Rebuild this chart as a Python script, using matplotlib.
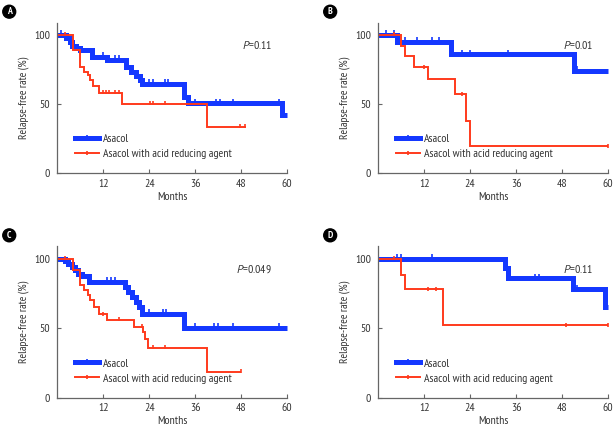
import numpy as np
import matplotlib
matplotlib.use("Agg")
import matplotlib.pyplot as plt
from matplotlib.lines import Line2D
from matplotlib import font_manager as fm

# narrow sans, as in the journal figure
_have = {f.name for f in fm.fontManager.ttflist}
_pick = [n for n in ["PT Sans Narrow", "Archivo Narrow", "Roboto Condensed",
                     "Fira Sans Condensed", "IBM Plex Sans Condensed"] if n in _have]
if _pick:
    plt.rcParams["font.family"] = [_pick[0], "DejaVu Sans"]
    FS = 8.5
else:
    plt.rcParams["font.family"] = ["DejaVu Sans"]
    plt.rcParams["font.stretch"] = "condensed"
    FS = 7.5
IT_FONT = "PT Sans" if "PT Sans" in _have else (_pick[0] if _pick else "DejaVu Sans")
plt.rcParams["mathtext.fontset"] = "custom"
plt.rcParams["mathtext.it"] = IT_FONT + ":italic"

BLUE = "#1438ff"
RED = "#ff3a1c"
LABELS = ["Asacol", "Asacol with acid reducing agent"]
PANELS = ["A", "B", "C", "D"]
P_TEXT = ["0.11", "0.01", "0.049", "0.11"]
XTICKS = [12, 24, 36, 48, 60]
YTICKS = [0, 50, 100]

# ---- panel A ----
A_ASA_T = [0, 2.4, 3.3, 3.8, 5.0, 5.9, 9.0, 13.0, 18.0, 19.3, 20.5, 21.5, 22.2, 33.2, 34.2, 58.7]
A_ASA_S = [100, 97.6, 95, 92, 90.4, 89, 84.3, 82, 77, 73.5, 70.5, 67.5, 64.7, 55, 50.5, 42]
A_ASA_C = [1, 12, 13, 15, 16, 24, 25, 28, 29, 36, 41.5, 42.5, 46, 58]
A_ASA_END = 60
A_ARA_T = [0, 4, 6, 7, 8, 8.5, 9.3, 11, 17, 39]
A_ARA_S = [100, 89, 77, 73.5, 71, 67.5, 63, 58, 50, 33.5]
A_ARA_C = [2, 12, 12.7, 13.5, 15, 16, 24.2, 25, 28, 47.8, 49]
A_ARA_END = 49.2

# ---- panel B ----
B_ASA_T = [0, 5, 19, 51]
B_ASA_S = [100, 95, 86, 74]
B_ASA_C = [2, 4, 7, 10, 14, 16, 22, 24, 34, 52]
B_ASA_END = 60
B_ARA_T = [0, 6, 7, 9.3, 13, 20, 23, 24]
B_ARA_S = [100, 92, 84.5, 76.5, 68.5, 57, 38, 19.5]
B_ARA_C = [4, 12, 22, 60]
B_ARA_END = 60

# ---- panel C ----
C_ASA_T = [0, 2.0, 2.9, 3.8, 4.6, 5.5, 6.4, 8.3, 17.7, 18.5, 19.6, 20.5, 21.3, 22.0, 33]
C_ASA_S = [100, 98.4, 96.5, 94, 91.7, 89.3, 87.5, 83.5, 79.5, 76, 72.5, 69, 65.3, 60.5, 50.3]
C_ASA_C = [13, 14, 15, 24, 27.5, 28.5, 36, 41, 42, 46, 58]
C_ASA_END = 60
C_ARA_T = [0, 4, 6, 7, 8, 8.5, 9.5, 11, 13, 20, 22.3, 23, 23.8, 39]
C_ARA_S = [100, 92, 81, 77.5, 74, 70, 65, 60, 56, 51, 47, 42, 36, 18.5]
C_ARA_C = [2, 12, 16, 22, 25, 28, 48]
C_ARA_END = 48

# ---- panel D ----
D_ASA_T = [0, 33, 33.9, 50.9, 59.1]
D_ASA_S = [100, 93, 86, 78, 65]
D_ASA_C = [5, 6, 14, 41, 42, 52]
D_ASA_END = 60
D_ARA_T = [0, 6, 7, 17]
D_ARA_S = [100, 88.5, 78, 52.2]
D_ARA_C = [4, 13, 15, 49, 60]
D_ARA_END = 60

DATA = {
    "A": [(A_ASA_T, A_ASA_S, A_ASA_C, A_ASA_END), (A_ARA_T, A_ARA_S, A_ARA_C, A_ARA_END)],
    "B": [(B_ASA_T, B_ASA_S, B_ASA_C, B_ASA_END), (B_ARA_T, B_ARA_S, B_ARA_C, B_ARA_END)],
    "C": [(C_ASA_T, C_ASA_S, C_ASA_C, C_ASA_END), (C_ARA_T, C_ARA_S, C_ARA_C, C_ARA_END)],
    "D": [(D_ASA_T, D_ASA_S, D_ASA_C, D_ASA_END), (D_ARA_T, D_ARA_S, D_ARA_C, D_ARA_END)],
}

RECTS = {
    "A": [0.093, 0.600, 0.373, 0.348],
    "B": [0.614, 0.600, 0.373, 0.348],
    "C": [0.093, 0.0815, 0.373, 0.350],
    "D": [0.614, 0.0815, 0.373, 0.350],
}
STYLES = [dict(color=BLUE, lw=3.6), dict(color=RED, lw=1.4)]


def km_curve(ax, t, s, cens, end, color, lw):
    x = list(t) + [end]
    y = list(s) + [s[-1]]
    ax.step(x, y, where="post", color=color, lw=lw, solid_joinstyle="miter",
            solid_capstyle="butt", clip_on=False)
    idx = np.searchsorted(t, cens, side="right") - 1
    cy = np.asarray(s)[idx]
    ax.plot(cens, cy + lw * 0.3, ls="none", marker="|", color=color,
            ms=2.0 + lw * 0.7, mew=1.2, clip_on=False)


fig = plt.figure(figsize=(6.16, 4.33), dpi=100)

for k, panel in enumerate(PANELS):
    ax = fig.add_axes(RECTS[panel])
    for series, st in zip(DATA[panel], STYLES):
        km_curve(ax, *series, **st)
    ax.set_xlim(0, 60)
    ax.set_ylim(0, 109)
    ax.set_xticks(XTICKS)
    ax.set_yticks(YTICKS)
    for sp in ["top", "right"]:
        ax.spines[sp].set_visible(False)
    for sp in ["left", "bottom"]:
        ax.spines[sp].set_color("#666666")
        ax.spines[sp].set_linewidth(0.9)
    ax.tick_params(direction="in", length=3, width=0.8, color="#666666",
                   labelsize=FS, labelcolor="#333333")
    ax.tick_params(axis="x", pad=4)
    ax.tick_params(axis="y", pad=5)
    ax.set_xlabel("Months", fontsize=FS, color="#333333", labelpad=2)
    ax.set_ylabel("Relapse-free rate (%)", fontsize=FS - 0.3, color="#333333", labelpad=4)
    ax.text(0.935, 0.85, "$\\it{P}$=" + P_TEXT[k], transform=ax.transAxes,
            ha="right", va="center", fontsize=FS, color="#333333")
    handles = [Line2D([], [], marker="|", ms=2.0 + st["lw"] * 0.7, mew=1.2, **st)
               for st in STYLES]
    ax.legend(handles, LABELS, loc="upper left", bbox_to_anchor=(0.077, 0.26),
              frameon=False, fontsize=FS, handlelength=2.0, handletextpad=0.35,
              labelspacing=0.4, borderpad=0, borderaxespad=0, labelcolor="#333333")
    x0, y0 = RECTS[panel][0], RECTS[panel][1] + RECTS[panel][3]
    fig.text(x0 - 0.078, y0 + 0.025, panel, color="white", fontsize=7,
             fontweight="bold", ha="center", va="center",
             bbox=dict(boxstyle="circle,pad=0.2", fc="black", ec="black"))

fig.savefig("out.png", dpi=100)
